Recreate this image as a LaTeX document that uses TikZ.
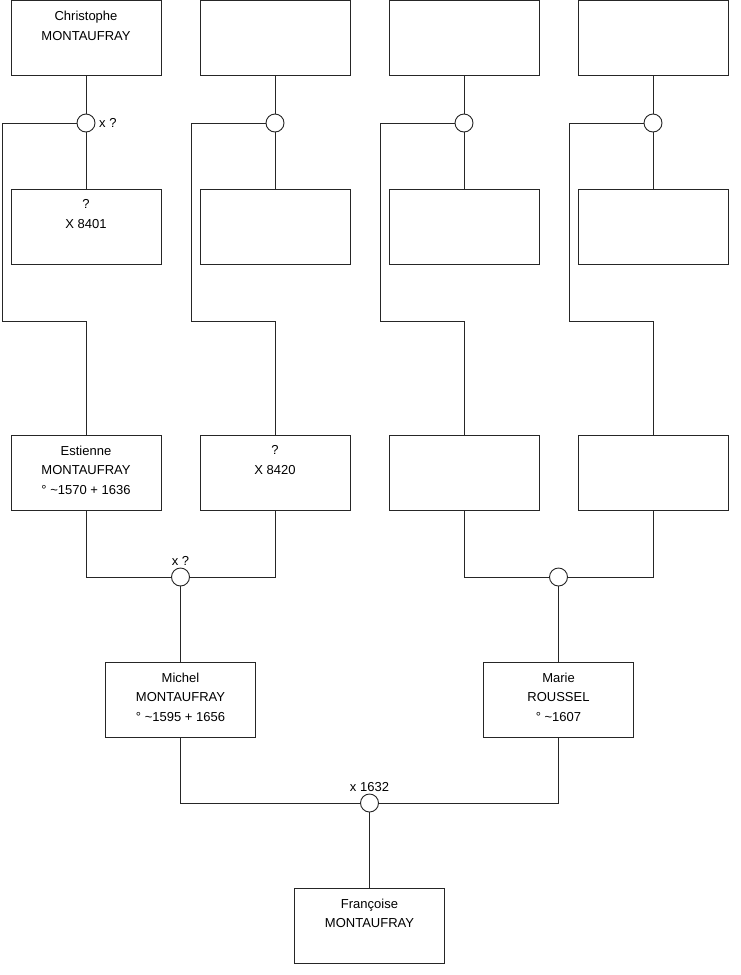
\documentclass[tikz,border=0pt]{standalone}
\usepackage{fontspec}
\setmainfont{Liberation Sans}
\usetikzlibrary{positioning}
\tikzset{
  person/.style={draw=black!85, line width=0.9pt, fill=white,
                 minimum width=150pt, minimum height=75pt, inner sep=0pt,
                 label={[pname]north:#1}},
  person/.default={},
  pname/.style={anchor=north, yshift=-11pt, align=center, inner sep=0pt,
                font=\fontsize{13}{19.6}\selectfont},
  union/.style={draw=black!85, line width=0.9pt, circle, fill=white,
                minimum size=18pt, inner sep=0pt},
  link/.style={draw=black!85, line width=0.9pt},
  ulbl/.style={font=\fontsize{13}{15}\selectfont, inner sep=2pt},
}

\begin{document}
\begin{tikzpicture}[x=1pt, y=-1pt]
\useasboundingbox (0,0) rectangle (740,975);
% generation 1
\node[person={Christophe\\MONTAUFRAY}] (a1) at (86,38) {};
\node[person] (a2) at (275,38) {};
\node[person] (a3) at (464,38) {};
\node[person] (a4) at (653,38) {};
\node[union] (u1) at (86,123) {};
\node[union] (u2) at (275,123) {};
\node[union] (u3) at (464,123) {};
\node[union] (u4) at (653,123) {};
\node[ulbl, right=1.5pt of u1] (xu1) {x ?};
% generation 2
\node[person={?\\X 8401}] (b1) at (86,226.5) {};
\node[person] (b2) at (275,226.5) {};
\node[person] (b3) at (464,226.5) {};
\node[person] (b4) at (653,226.5) {};
\coordinate (k1) at (2,321);
\coordinate (k2) at (191,321);
\coordinate (k3) at (380,321);
\coordinate (k4) at (569,321);
% generation 3
\node[person={Estienne\\MONTAUFRAY\\° \textasciitilde1570 + 1636}] (c1) at (86,472.5) {};
\node[person={?\\X 8420}] (c2) at (275,472.5) {};
\node[person] (c3) at (464,472.5) {};
\node[person] (c4) at (653,472.5) {};
\node[union] (n1) at (180.5,577) {};
\node[union] (n2) at (558.5,577) {};
\node[ulbl, above=0pt of n1] (xn1) {x ?};
% generation 4
\node[person={Michel\\MONTAUFRAY\\° \textasciitilde1595 + 1656}] (mi) at (180.5,699.5) {};
\node[person={Marie\\ROUSSEL\\° \textasciitilde1607}] (ma) at (558.5,699.5) {};
\node[union] (n3) at (369.5,803) {};
\node[ulbl, above=0pt of n3] (xn3) {x 1632};
% generation 5
\node[person={Françoise\\MONTAUFRAY}] (fr) at (369.5,925.5) {};

\foreach \i in {1,2,3,4}{
  \draw[link] (a\i) -- (u\i);
  \draw[link] (u\i) -- (b\i);
  \draw[link] (u\i.west) -| (k\i) -| (c\i.north);
}
\draw[link] (c1.south) |- (n1.west);
\draw[link] (c2.south) |- (n1.east);
\draw[link] (c3.south) |- (n2.west);
\draw[link] (c4.south) |- (n2.east);
\draw[link] (n1) -- (mi);
\draw[link] (n2) -- (ma);
\draw[link] (mi.south) |- (n3.west);
\draw[link] (ma.south) |- (n3.east);
\draw[link] (n3) -- (fr);
\end{tikzpicture}
\end{document}
